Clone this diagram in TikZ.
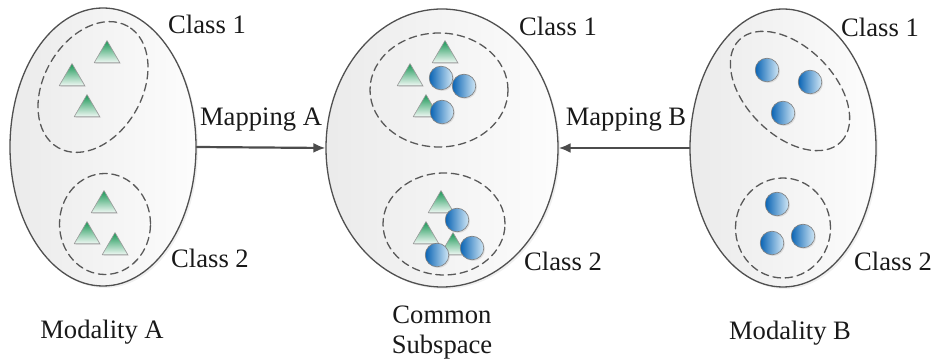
\documentclass[tikz,border=0pt]{standalone}
\usepackage{fontspec}
\setmainfont{Liberation Serif}
\usepackage{tikz}
\usetikzlibrary{shapes,arrows.meta,shadows}
\definecolor{triGreen}{RGB}{25,150,85}
\definecolor{dotBlue}{RGB}{10,100,180}
\definecolor{dotLight}{RGB}{210,232,246}
\definecolor{edgeGray}{RGB}{80,80,80}

\begin{document}
\begin{tikzpicture}
      [x=0.5pt,y=-0.5pt,line cap=round,line join=round,
     %the grey spaces and the dashed classes
     space/.style={ellipse,draw=edgeGray,line width=0.65pt,inner sep=0pt,
       left color=black!8,right color=black!1,
       drop shadow={opacity=0.12,shadow xshift=1pt,shadow yshift=-1pt}},
     cls/.style={ellipse,draw=black!65,line width=0.65pt,inner sep=0pt,
       dash pattern=on 3.8pt off 2.3pt},
     %the samples: triangles for modality A, dots for modality B
     tri/.style={regular polygon,regular polygon sides=3,minimum size=14.8pt,
       inner sep=0pt,anchor=corner 1,draw=black!40,line width=0.3pt,
       top color=triGreen,bottom color=triGreen!6,
       drop shadow={opacity=0.2,shadow xshift=0.6pt,shadow yshift=-0.6pt}},
     dot/.style={circle,minimum size=11.8pt,inner sep=0pt,draw=black!50,
       line width=0.3pt,left color=dotBlue,right color=dotLight,
       drop shadow={opacity=0.2,shadow xshift=0.6pt,shadow yshift=-0.6pt}},
     lbl/.style={font=\rmfamily\fontsize{13.3}{15}\selectfont,text=black!90,inner sep=0pt},
     map/.style={-{Latex[length=6pt,width=5pt]},draw=black!70,line width=1.1pt}]%main layer

\useasboundingbox (0,0) rectangle (935,362);

%the three spaces
  \node[space,minimum width=93pt,minimum height=139pt] (modA) at (103,147) {};
  \node[space,minimum width=116pt,minimum height=139pt] (common) at (442,148) {};
  \node[space,minimum width=93pt,minimum height=139pt] (modB) at (783,148) {};

%the classes
  \node[cls,rotate=60,minimum width=70pt,minimum height=49pt] (clsA1) at (93,87) {};
  \node[cls,minimum width=45.5pt,minimum height=50.5pt] (clsA2) at (105,224) {};
  \node[cls,minimum width=69pt,minimum height=57pt] (clsC1) at (439,90) {};
  \node[cls,minimum width=61pt,minimum height=51pt] (clsC2) at (444,224) {};
  \node[cls,rotate=-45,minimum width=72pt,minimum height=44pt] (clsB1) at (790,91) {};
  \node[cls,minimum width=47.5pt,minimum height=50pt] (clsB2) at (783,228) {};

%modality A
  \node[tri] (a1) at (107,40) {};
  \node[tri] (a2) at (72,63) {};
  \node[tri] (a3) at (87,94) {};
  \node[tri] (a4) at (104,190) {};
  \node[tri] (a5) at (87,221) {};
  \node[tri] (a6) at (115,232) {};

%common subspace
  \node[tri] (ca1) at (445,40) {};
  \node[tri] (ca2) at (410,63) {};
  \node[tri] (ca3) at (426,94) {};
  \node[tri] (ca4) at (441,190) {};
  \node[tri] (ca5) at (426,221) {};
  \node[tri] (ca6) at (453,232) {};
  \node[dot] (cb1) at (441,78) {};
  \node[dot] (cb2) at (464,86) {};
  \node[dot] (cb3) at (442,112) {};
  \node[dot] (cb4) at (457,220) {};
  \node[dot] (cb5) at (472,248) {};
  \node[dot] (cb6) at (437,255) {};

%modality B
  \node[dot] (b1) at (767,70) {};
  \node[dot] (b2) at (810,82) {};
  \node[dot] (b3) at (783,113) {};
  \node[dot] (b4) at (777,204) {};
  \node[dot] (b5) at (803,236) {};
  \node[dot] (b6) at (772,243) {};

%the mappings
  \draw[map] (modA.east) -- (common.west);
  \draw[map] (modB.west) -- (common.east);
  \node[lbl,anchor=base] (mapA) at (261,126) {Mapping A};
  \node[lbl,anchor=base] (mapB) at (626,126) {Mapping B};

%class and space names
  \node[lbl,anchor=base] (tA1) at (207,34) {Class 1};
  \node[lbl,anchor=base] (tA2) at (210,268) {Class 2};
  \node[lbl,anchor=base] (tC1) at (558,36) {Class 1};
  \node[lbl,anchor=base] (tC2) at (563,271) {Class 2};
  \node[lbl,anchor=base] (tB1) at (880,37) {Class 1};
  \node[lbl,anchor=base] (tB2) at (893,271) {Class 2};
  \node[lbl,anchor=base] (nameA) at (102,339) {Modality A};
  \node[lbl,align=center] (nameC) at (442,333) {Common\\Subspace};
  \node[lbl,anchor=base] (nameB) at (790,340) {Modality B};
\end{tikzpicture}
\end{document}
